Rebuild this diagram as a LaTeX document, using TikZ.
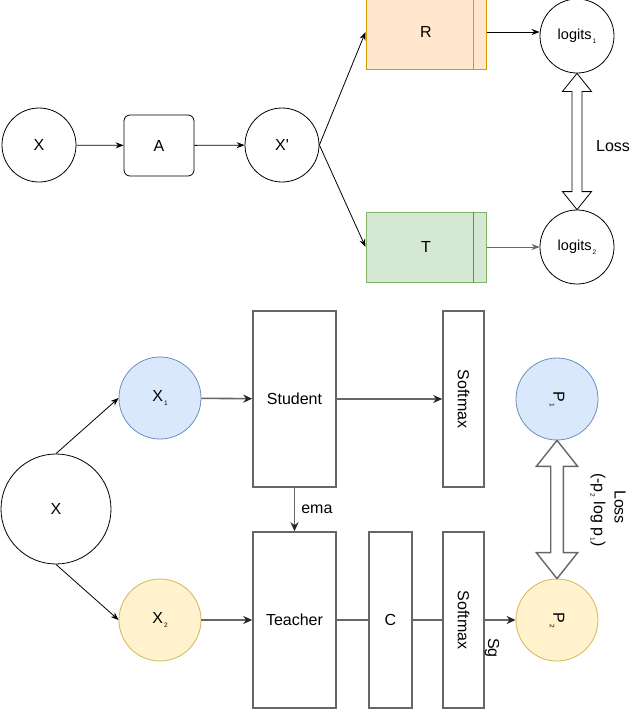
\documentclass[tikz,border=0pt]{standalone}
\usepackage{fontspec}
\setmainfont{Liberation Sans}
\usetikzlibrary{arrows.meta,calc}
\definecolor{orfill}{HTML}{FFE6CC}
\definecolor{ordraw}{HTML}{D79B00}
\definecolor{grfill}{HTML}{D5E8D4}
\definecolor{grdraw}{HTML}{82B366}
\definecolor{blfill}{HTML}{DAE8FC}
\definecolor{bldraw}{HTML}{6C8EBF}
\definecolor{yefill}{HTML}{FFF2CC}
\definecolor{yedraw}{HTML}{D6B656}
\definecolor{lgray}{HTML}{666666}
\newcommand\sbs[1]{\raisebox{-3.5pt}{\fontsize{6.5}{6.5}\selectfont\,#1}}
\tikzset{
  circ/.style={circle, draw=black, line width=0.8pt, inner sep=0pt},
  rbox/.style={rectangle, rounded corners=6pt, draw=black, line width=0.8pt},
  proc/.style={rectangle, line width=1pt, inner sep=0pt},
  gbox/.style={rectangle, draw=lgray, line width=1.6pt, inner sep=0pt},
  tarr/.style={draw=black, line width=0.8pt, -{Stealth[length=8pt,width=6pt]}},
  garr/.style={draw=lgray, line width=1.6pt, -{Stealth[length=9pt,width=8pt,color=black!85]}},
  gline/.style={draw=lgray, line width=1.6pt},
  lbl/.style={inner sep=0pt},
}
\begin{document}
\begin{tikzpicture}[x=1pt,y=-1pt,font=\fontsize{16}{18}\selectfont]
\useasboundingbox[fill=white] (0,0) rectangle (630,710);

% ---------- top part ----------
\node[circ, minimum size=74] (X) at (39,145) {X};
\node[rbox, minimum width=70, minimum height=61] (A) at (159,145.5) {A};
\node[circ, minimum size=74] (Xp) at (282,145) {X\textquotesingle};
\node[proc, fill=orfill, draw=ordraw, minimum width=120, minimum height=74] (R) at (426,32) {R};
\draw[ordraw, line width=1pt] ([xshift=-13]R.north east) -- ([xshift=-13]R.south east);
\node[proc, fill=grfill, draw=grdraw, minimum width=120, minimum height=70] (T) at (426,247) {T};
\draw[grdraw!80!black, line width=1pt] ([xshift=-13]T.north east) -- ([xshift=-13]T.south east);
\node[circ, minimum size=74, font=\fontsize{14.5}{16}\selectfont] (L1) at (577,36) {logits\sbs{1}};
\node[circ, minimum size=74, font=\fontsize{14.5}{16}\selectfont] (L2) at (577,247) {logits\sbs{2}};

\draw[tarr] (X) -- (A);
\draw[tarr] (A) -- (Xp);
\draw[tarr] (Xp.east) -- (R.west);
\draw[tarr] (Xp.east) -- (T.west);
\draw[tarr] (R.east) -- (R.east -| L1.west);
\draw[tarr, draw=black!60, line width=0.6pt] (T.east) -- (L2.west);

\draw[black, line width=0.8pt, fill=white]
  (L1.south) -- ($(L1.south)+(14.5,18)$) -- ($(L1.south)+(5,18)$)
  -- ($(L2.north)+(5,-18)$) -- ($(L2.north)+(14.5,-18)$) -- (L2.north)
  -- ($(L2.north)+(-14.5,-18)$) -- ($(L2.north)+(-5,-18)$)
  -- ($(L1.south)+(-5,18)$) -- ($(L1.south)+(-14.5,18)$) -- cycle;
\node[lbl] (loss1) at (613,146) {Loss};

% ---------- bottom part ----------
\node[circ, minimum size=110] (BX) at (56,509) {X};
\node[circ, draw=bldraw, fill=blfill, minimum size=82] (X1) at (160,398) {X\sbs{1}};
\node[circ, draw=yedraw, fill=yefill, minimum size=82] (X2) at (160,620) {X\sbs{2}};
\node[gbox, minimum width=83, minimum height=176] (S) at (294.5,399) {Student};
\node[gbox, minimum width=83, minimum height=176] (Te) at (294.5,620) {Teacher};
\node[gbox, minimum width=43, minimum height=176] (C) at (390.5,620) {C};
\node[gbox, minimum width=41, minimum height=176] (SM1) at (463.5,399) {};
\node[rotate=-90, lbl] at (SM1) {Softmax};
\node[gbox, minimum width=41, minimum height=176] (SM2) at (463.5,620) {};
\node[rotate=-90, lbl] at (SM2) {Softmax};
\node[circ, draw=bldraw, fill=blfill, minimum size=82] (P1) at (557,399) {};
\node[rotate=-90, lbl] at (P1) {P\sbs{1}};
\node[circ, draw=yedraw, fill=yefill, minimum size=82] (P2) at (557,620) {};
\node[rotate=-90, lbl] at (P2) {P\sbs{2}};

\draw[tarr] (BX.north) -- (X1.west);
\draw[tarr] (BX.south) -- (X2.west);
\draw[garr] (X1) -- (S);
\draw[garr] (X2) -- (Te);
\draw[garr] (S.east) -- (SM1.west);
\draw[gline] (Te) -- (C);
\draw[gline] (C) -- (SM2);
\draw[garr] (SM2) -- (P2);
\draw[garr] (S.south) -- node[right, lbl, xshift=6pt] {ema} (Te.north);
\node[rotate=-90, lbl] (sg) at (492,648) {Sg};

\draw[lgray, line width=1.4pt, fill=white]
  (P1.south) -- ($(P1.south)+(20.7,26)$) -- ($(P1.south)+(6.3,26)$)
  -- ($(P2.north)+(6.3,-26)$) -- ($(P2.north)+(20.7,-26)$) -- (P2.north)
  -- ($(P2.north)+(-20.7,-26)$) -- ($(P2.north)+(-6.3,-26)$)
  -- ($(P1.south)+(-6.3,26)$) -- ($(P1.south)+(-20.7,26)$) -- cycle;
\node[rotate=-90, lbl] (loss2) at (620,507) {Loss};
\node[rotate=-90, lbl] (lossf) at (598,510) {(-p\sbs{2} log p\sbs{1})};
\end{tikzpicture}
\end{document}
